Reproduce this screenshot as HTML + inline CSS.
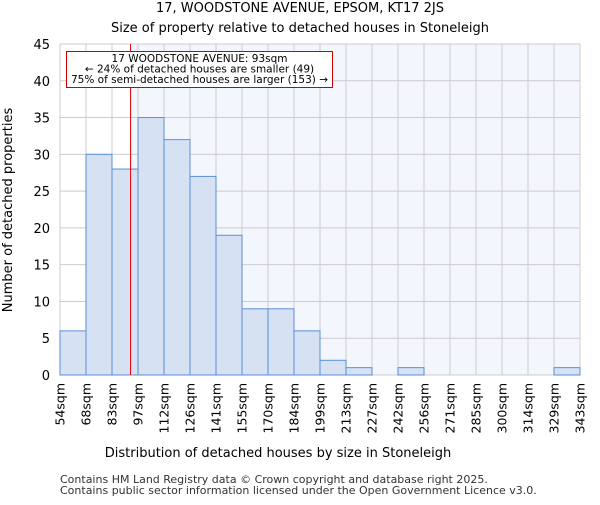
<!DOCTYPE html>
<html><head><meta charset="utf-8"><style>body{margin:0;background:#fff}svg{font-family:"DejaVu Sans","Liberation Sans",sans-serif}</style></head>
<body>
<svg width="600" height="500" viewBox="0 0 600 500">
<text x="300" y="12" text-anchor="middle" font-size="13">17, WOODSTONE AVENUE, EPSOM, KT17 2JS</text>
<text x="300" y="32" text-anchor="middle" font-size="13">Size of property relative to detached houses in Stoneleigh</text>
<g id="plot"></g>
<text x="278" y="457" text-anchor="middle" font-size="13">Distribution of detached houses by size in Stoneleigh</text>
<text transform="translate(12,210) rotate(-90)" text-anchor="middle" font-size="13">Number of detached properties</text>
<text x="60" y="483" font-size="11" fill="#333">Contains HM Land Registry data © Crown copyright and database right 2025.</text>
<text x="60" y="494" font-size="11" fill="#333">Contains public sector information licensed under the Open Government Licence v3.0.</text>
</svg>
<script>
const binLabels=["54sqm","68sqm","83sqm","97sqm","112sqm","126sqm","141sqm","155sqm","170sqm","184sqm","199sqm","213sqm","227sqm","242sqm","256sqm","271sqm","285sqm","300sqm","314sqm","329sqm","343sqm"];
const binEdges=[54,68,83,97,112,126,141,155,170,184,199,213,227,242,256,271,285,300,314,329,343];
const counts=[6,30,28,35,32,27,19,9,9,6,2,1,0,1,0,0,0,0,0,1];
const yTicks=[0,5,10,15,20,25,30,35,40,45];
const marker=93;
const NS="http://www.w3.org/2000/svg";
const g=document.getElementById('plot');
const X0=60,X1=580,Y0=375,Y1=44,yMax=45;
const nb=counts.length;
const xi=i=>X0+(X1-X0)*i/nb;
const y=v=>Y0-(Y0-Y1)*v/yMax;
function xv(v){for(let i=0;i<binEdges.length-1;i++){if(v<=binEdges[i+1]){return xi(i)+(v-binEdges[i])/(binEdges[i+1]-binEdges[i])*(X1-X0)/nb;}}return X1;}
function mk(t,a){const e=document.createElementNS(NS,t);for(const k in a)e.setAttribute(k,a[k]);g.appendChild(e);return e;}
const mx=xv(marker);
let e=mk('rect',{x:X0,y:Y1,width:mx-X0,height:Y0-Y1,fill:'#fff'});


e=mk('rect',{x:mx,y:Y1,width:X1-mx,height:Y0-Y1,fill:'#f3f6fc'});


yTicks.forEach(t=>{
 e=mk('line',{x1:X0,x2:X1,y1:y(t),y2:y(t),stroke:'#ccc','stroke-width':1});
 
 
 e=mk('text',{x:X0-10,y:y(t)+5,'text-anchor':'end','font-size':13});
 e.textContent=t;
 
 
});
binLabels.forEach((l,i)=>{
 e=mk('line',{x1:xi(i),x2:xi(i),y1:Y1,y2:Y0,stroke:'#ccc','stroke-width':1});
 
 
 e=mk('text',{transform:`translate(${xi(i)+4.5},383) rotate(-90)`,'text-anchor':'end','font-size':12.5});
 e.textContent=l;
 
 
});
counts.forEach((c,i)=>{
 if(c<=0)return;
 e=mk('rect',{x:xi(i),y:y(c),width:xi(i+1)-xi(i),height:Y0-y(c),fill:'#d6e2f3',stroke:'#5b8fd6','stroke-width':1});
 
 
});
e=mk('line',{x1:mx,x2:mx,y1:Y1,y2:Y0,stroke:'#d00','stroke-width':1});


e=mk('rect',{x:66.5,y:51.5,width:266,height:36,fill:'#fff',stroke:'#c00','stroke-width':1});


["17 WOODSTONE AVENUE: 93sqm","← 24% of detached houses are smaller (49)","75% of semi-detached houses are larger (153) →"].forEach((s,i)=>{
 e=mk('text',{x:199.5,y:62+i*10.5,'text-anchor':'middle','font-size':10.5});
 e.textContent=s;
 
 
});
</script>
</body></html>
